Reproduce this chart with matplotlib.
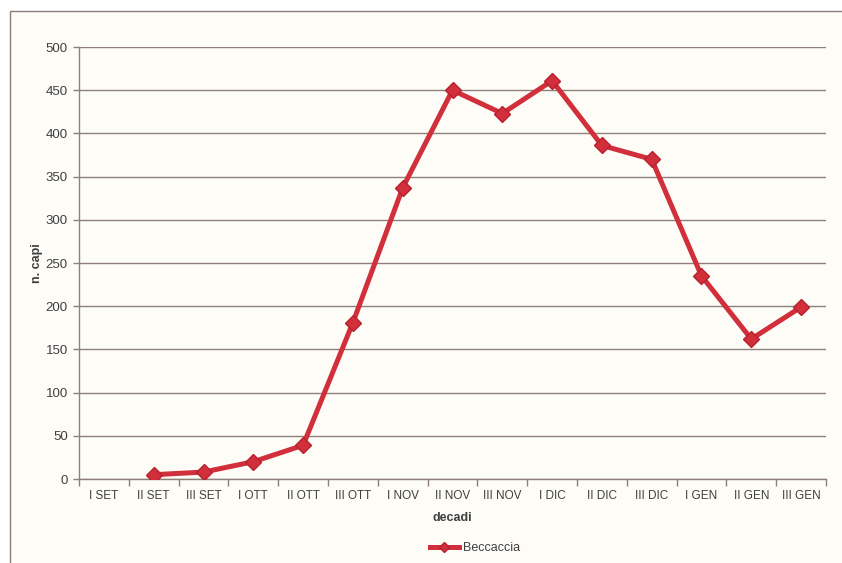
import numpy as np
import matplotlib
matplotlib.use("Agg")
import matplotlib.pyplot as plt
from matplotlib.patches import Rectangle

# decadi (ten-day periods) from September to January
decadi = ["I SET", "II SET", "III SET", "I OTT", "II OTT", "III OTT",
          "I NOV", "II NOV", "III NOV", "I DIC", "II DIC", "III DIC",
          "I GEN", "II GEN", "III GEN"]
# first decade has no value
beccaccia = [np.nan, 5, 8, 20, 39, 181, 337, 450, 423, 461, 386, 370, 235, 162, 199]
yticks = [0, 50, 100, 150, 200, 250, 300, 350, 400, 450, 500]

RED = "#D12F3B"
GRID = "#8E8078"
TEXT = "#3F3F3F"

plt.rcParams["font.family"] = ["Liberation Sans", "DejaVu Sans"]

fig = plt.figure(figsize=(8.42, 5.63), dpi=100)
fig.patch.set_facecolor("white")

# chart area frame, cut off at the right and bottom like the scan
frame = Rectangle((10 / 842, -0.05), 1.0, 1 - 11 / 563 + 0.05,
                  transform=fig.transFigure, facecolor="#FDFCF7",
                  edgecolor="#8A7F7A", linewidth=1.0, zorder=-5)
fig.add_artist(frame)

ax = fig.add_axes([79 / 842, 1 - 479 / 563, (826 - 79) / 842, (479 - 47) / 563])
ax.set_zorder(2)
ax.set_facecolor("none")

x = np.arange(len(decadi))
ax.plot(x, beccaccia, color=RED, linewidth=3.6, marker="D", markersize=8,
        markerfacecolor=RED, markeredgecolor="#B8222E", label="Beccaccia",
        zorder=3)

ax.set_xlim(-0.5, len(decadi) - 0.5)
ax.set_ylim(0, 500)
ax.set_yticks(yticks)
ax.yaxis.grid(True, color=GRID, linewidth=1.0)
ax.set_axisbelow(True)

# category labels between tick marks
ax.set_xticks(x)
ax.set_xticklabels(decadi, fontsize=8.5, color=TEXT)
ax.tick_params(axis="x", which="major", length=0, pad=8)
ax.set_xticks(np.arange(-0.5, len(decadi)), minor=True)
ax.tick_params(axis="x", which="minor", length=5, color=GRID, width=1.0)
ax.tick_params(axis="y", length=4, color=GRID, width=1.0, labelsize=9.5,
               labelcolor=TEXT, pad=4)

for side in ["top", "right"]:
    ax.spines[side].set_visible(False)
for side in ["left", "bottom"]:
    ax.spines[side].set_color(GRID)
    ax.spines[side].set_linewidth(1.0)

ax.set_xlabel("decadi", fontsize=9, fontweight="bold", color=TEXT, labelpad=7)
ax.set_ylabel("n. capi", fontsize=9, fontweight="bold", color=TEXT, labelpad=2)

ax.legend(loc="center", bbox_to_anchor=(0.53, -0.16), frameon=False,
          fontsize=9, handlelength=2.3, markerscale=0.7, labelcolor=TEXT,
          handletextpad=0.3)

fig.savefig("out.png", dpi=100, facecolor=fig.get_facecolor())
